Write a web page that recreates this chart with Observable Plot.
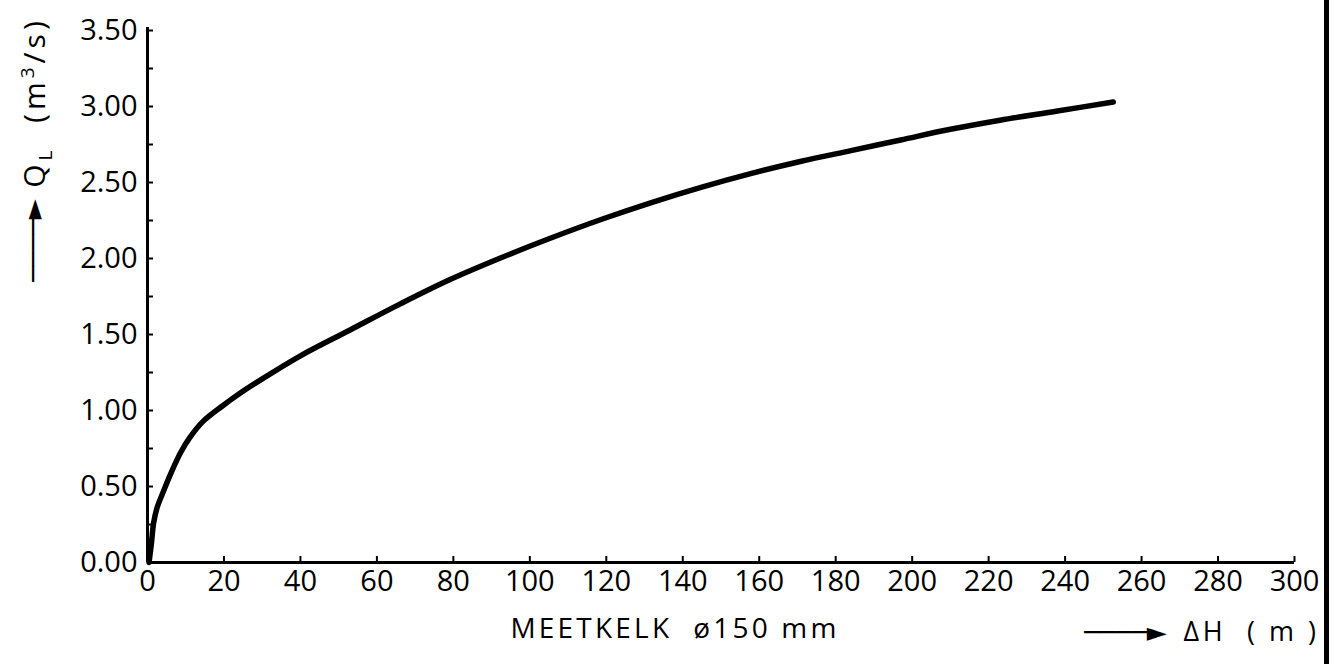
<!DOCTYPE html>
<html>
<head>
<meta charset="utf-8">
<script src="https://cdn.jsdelivr.net/npm/d3@7"></script>
<script src="https://cdn.jsdelivr.net/npm/@observablehq/plot@0.6"></script>
<style>
  body { margin: 0; background: #fff; }
  #wrap { width: 1324px; height: 664px; border-right: 5px solid #000; background: #fff; overflow: visible; }
</style>
</head>
<body>
<div id="wrap"></div>
<script>
// ---- data ----
const dH = [0.4, 1, 1.6, 2.5, 4.2, 6, 8.6, 11, 14.6, 19.6, 24, 29.5, 40, 53, 66, 79, 92, 105, 119, 132, 145, 158, 171, 184, 197, 210, 223, 238, 252.6];
const QL = [0, 0.12, 0.26, 0.36, 0.47, 0.58, 0.72, 0.82, 0.93, 1.03, 1.11, 1.20, 1.36, 1.53, 1.70, 1.86, 2.00, 2.13, 2.26, 2.37, 2.47, 2.56, 2.64, 2.71, 2.78, 2.85, 2.91, 2.97, 3.03];

const xTicks = [0, 20, 40, 60, 80, 100, 120, 140, 160, 180, 200, 220, 240, 260, 280, 300];
const yTicks = [0, 0.25, 0.5, 0.75, 1, 1.25, 1.5, 1.75, 2, 2.25, 2.5, 2.75, 3, 3.25, 3.5];
const yLabelTicks = [0, 0.5, 1, 1.5, 2, 2.5, 3, 3.5];

const xTitle = "MEETKELK\u00a0\u00a0ø150\u00a0mm";
const xUnit = "ΔH\u00a0\u00a0(\u00a0m\u00a0)";
const yTitle = "Q_L (m3/s)";
const arrowGlyph = "────►";

const curve = dH.map((h, i) => ({h, q: QL[i]}));

const font = "'Open Sans', 'DejaVu Sans', sans-serif";

const chart = Plot.plot({
  width: 1324,
  height: 664,
  marginLeft: 147,
  marginRight: 30,
  marginTop: 30,
  marginBottom: 102,
  style: {fontFamily: font, fontSize: "29px", color: "#000", background: "#fff", overflow: "visible"},
  x: {domain: [0, 300], label: null},
  y: {domain: [0, 3.5], label: null},
  marks: [
    // axis lines
    Plot.ruleX([0], {stroke: "#000", strokeWidth: 3, insetTop: -3}),
    Plot.ruleY([0], {stroke: "#000", strokeWidth: 3}),
    // inward ticks
    Plot.axisY(yTicks, {tickSize: -6, strokeWidth: 2, fill: "none", label: null}),
    Plot.axisX(xTicks, {tickSize: -6, strokeWidth: 2, fill: "none", label: null}),
    // tick labels
    Plot.axisY(yLabelTicks, {tickSize: 0, tickPadding: 10, tickFormat: d => d.toFixed(2), fontSize: 29, label: null}),
    Plot.axisX(xTicks, {tickSize: 0, tickPadding: 8, tickFormat: d => String(d), fontSize: 29, label: null}),
    // curve
    Plot.line(curve, {x: "h", y: "q", stroke: "#000", strokeWidth: 5.5, curve: "catmull-rom", strokeLinecap: "round"}),
    // titles
    Plot.text([xTitle], {frameAnchor: "bottom", dx: -46, dy: 75, textAnchor: "middle", fontSize: 28, fontFamily: font}),
    Plot.text([xUnit], {frameAnchor: "bottom-right", dx: -111, dy: 78, textAnchor: "start", fontSize: 27, fontFamily: font}),
    Plot.text([arrowGlyph], {frameAnchor: "bottom-right", dx: -169, dy: 78, textAnchor: "middle", fontSize: 26, fontFamily: "'DejaVu Sans'"}),
    Plot.text([yTitle], {frameAnchor: "top-left", dx: -124, dy: 72, rotate: -90, textAnchor: "middle", fontSize: 30, fontFamily: font}),
    Plot.text([arrowGlyph], {frameAnchor: "top-left", dx: -124, dy: 210, rotate: -90, textAnchor: "middle", fontSize: 26, fontFamily: "'DejaVu Sans'"})
  ]
});

// post-process text styling (subscript / superscript, letter spacing)
d3.select(chart).selectAll("text").each(function () {
  const el = d3.select(this);
  const s = this.textContent;
  if (s === yTitle) {
    el.text(null).style("letter-spacing", "4px");
    el.append("tspan").text("Q");
    el.append("tspan").attr("dy", 7).attr("font-size", 19).text("L");
    el.append("tspan").attr("dy", -7).text("\u00a0\u00a0(m");
    el.append("tspan").attr("dy", -11).attr("font-size", 19).text("3");
    el.append("tspan").attr("dy", 11).text("/s)");
  } else if (s === xTitle) {
    el.style("letter-spacing", "3.2px");
  } else if (s === xUnit) {
    el.style("letter-spacing", "3.5px");
  }
});

document.getElementById("wrap").appendChild(chart);
</script>
</body>
</html>
